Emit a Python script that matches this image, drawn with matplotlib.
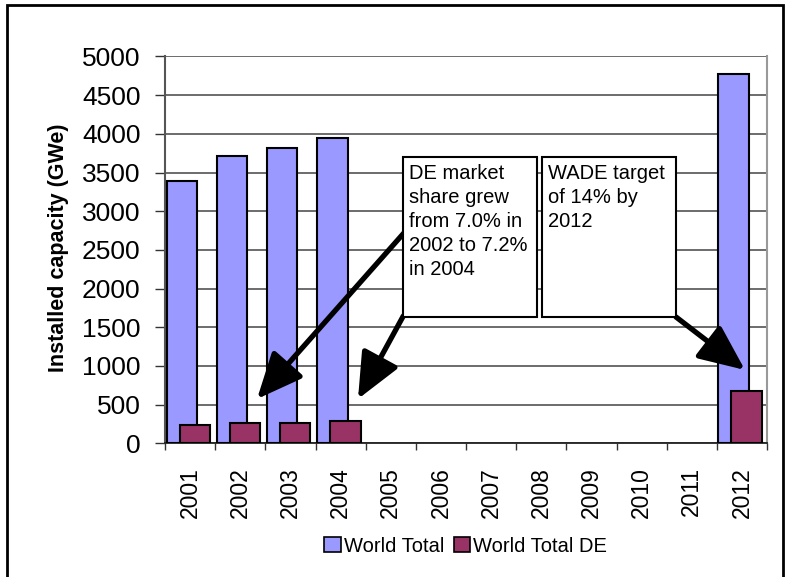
import matplotlib
matplotlib.use("Agg")
import matplotlib.pyplot as plt
from matplotlib.patches import Rectangle, Patch
import numpy as np

plt.rcParams['font.family'] = ['Liberation Sans', 'DejaVu Sans']

years = ["2001", "2002", "2003", "2004", "2005", "2006", "2007", "2008",
         "2009", "2010", "2011", "2012"]
world_total = [3385, 3720, 3820, 3940, 0, 0, 0, 0, 0, 0, 0, 4780]
world_total_de = [235, 262, 262, 290, 0, 0, 0, 0, 0, 0, 0, 680]
y_ticks = list(range(0, 5001, 500))

blue = "#9999FF"
plum = "#993366"

fig = plt.figure(figsize=(7.88, 5.77), dpi=100)
ax = fig.add_axes([0.2094, 0.2317, 0.7640, 0.6704])

x = np.arange(len(years))
width = 0.61
for xi, v in zip(x, world_total):
    if v > 0:
        ax.bar(xi - 0.165, v, width=width, color=blue, edgecolor="black",
               linewidth=1.5, zorder=3)
for xi, v in zip(x, world_total_de):
    if v > 0:
        ax.bar(xi + 0.095, v, width=width, color=plum, edgecolor="black",
               linewidth=1.5, zorder=4)

ax.set_xlim(-0.5, len(years) - 0.5)
ax.set_ylim(0, 5000)
ax.set_yticks(y_ticks)
ax.set_yticklabels([str(t) for t in y_ticks], fontsize=19)
ax.tick_params(axis="y", length=7.2, width=1, pad=10.5, color="#333333")

ax.set_xticks(x)
ax.set_xticklabels(years, rotation=90, fontsize=16.5)
ax.set_xticks(np.arange(-0.5, len(years)), minor=True)
ax.tick_params(axis="x", which="major", length=0, pad=17)
ax.tick_params(axis="x", which="minor", length=5, width=1, color="#333333")

ax.yaxis.grid(True, color="#444444", linewidth=1.1, zorder=0)
ax.set_axisbelow(True)
ax.spines["top"].set_visible(False)
ax.spines["left"].set_color("#555555")
ax.spines["left"].set_linewidth(1.5)
ax.spines["bottom"].set_color("#222222")
ax.spines["bottom"].set_linewidth(1.3)
ax.spines["right"].set_color("#999999")
ax.spines["right"].set_linewidth(1.5)

ax.set_ylabel("Installed capacity (GWe)", fontsize=15.5, fontweight="bold")
ax.yaxis.set_label_coords(-0.16, 0.505)

# Arrows pointing at the distributed-energy bars
arrow_kw = dict(arrowstyle="-|>,head_length=1.4,head_width=0.62",
                mutation_scale=20, lw=3.8, color="black",
                shrinkA=0, shrinkB=0)
ax.annotate("", xy=(1.334, 573), xytext=(4.28, 2732),
            arrowprops=arrow_kw, zorder=6, annotation_clip=False)
ax.annotate("", xy=(3.347, 573), xytext=(4.25, 1646),
            arrowprops=arrow_kw, zorder=6, annotation_clip=False)
ax.annotate("", xy=(11.06, 948), xytext=(9.685, 1633),
            arrowprops=arrow_kw, zorder=6, annotation_clip=False)

# Callout boxes
boxes = [
    (4.25, 6.91, "DE market\nshare grew\nfrom 7.0% in\n2002 to 7.2%\nin 2004"),
    (7.02, 9.68, "WADE target\nof 14% by\n2012"),
]
box_top, box_bottom = 3698, 1637
for x0, x1, txt in boxes:
    ax.add_patch(Rectangle((x0, box_bottom), x1 - x0, box_top - box_bottom,
                           facecolor="white", edgecolor="black", linewidth=1.5,
                           zorder=8, clip_on=False))
    ax.text(x0 + 0.12, box_top - 90, txt, fontsize=14.5, va="top", ha="left",
            linespacing=1.33, zorder=9)

# Legend
handles = [Patch(facecolor=blue, edgecolor="black", linewidth=1.2, label="World Total"),
           Patch(facecolor=plum, edgecolor="black", linewidth=1.2, label="World Total DE")]
fig.legend(handles=handles, loc="center", bbox_to_anchor=(0.591, 0.0537),
           ncol=2, frameon=False, fontsize=14.5, handlelength=0.8,
           handleheight=0.8, handletextpad=0.15, columnspacing=0.5,
           borderaxespad=0, borderpad=0)

# Outer frame around the chart
fig.patches.append(Rectangle((7 / 788, -0.01), (783 - 7) / 788, 1 - 5 / 577 + 0.01,
                             transform=fig.transFigure, fill=False,
                             edgecolor="black", linewidth=2, zorder=0))

fig.savefig("out.png", dpi=100)
